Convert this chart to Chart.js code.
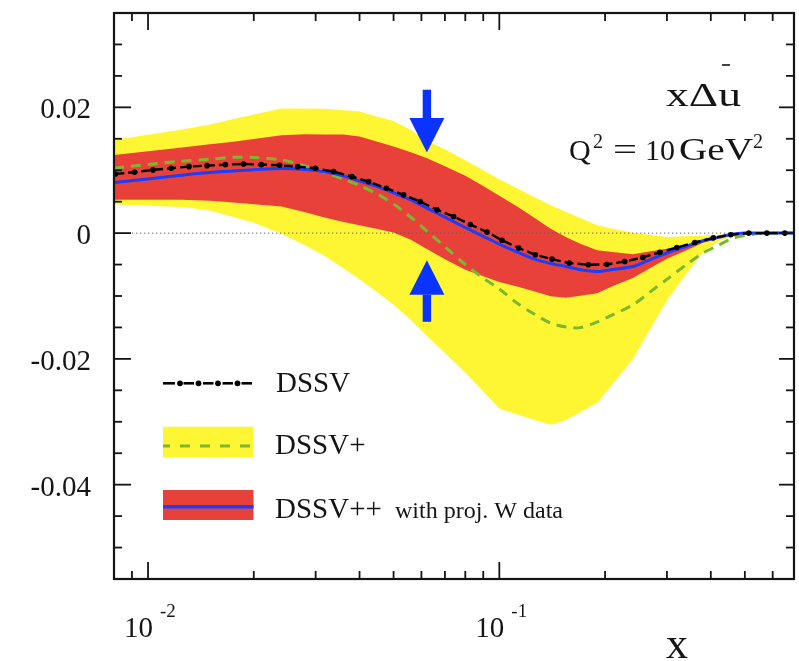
<!DOCTYPE html>
<html>
<head>
<meta charset="utf-8">
<script src="https://cdn.jsdelivr.net/npm/chart.js@4.4.1/dist/chart.umd.min.js"></script>
<style>
  html, body { margin: 0; padding: 0; background: #fff; }
  canvas { display: block; }
</style>
</head>
<body>
<canvas id="pdfC" width="799" height="661"></canvas>
<script>
/* ── data: x·Δū at Q² = 10 GeV² ─────────────────────────────────────────── */
const BAND_X = [0.008, 0.010, 0.0125, 0.015, 0.0175, 0.02, 0.024, 0.028, 0.032, 0.036,
                0.04, 0.045, 0.05, 0.056, 0.062, 0.07, 0.08, 0.09, 0.1, 0.113,
                0.126, 0.14, 0.155, 0.17, 0.19, 0.21, 0.24, 0.27, 0.3, 0.34,
                0.38, 0.42, 0.46, 0.5, 0.55, 0.6, 0.69];

/* DSSV+ uncertainty band (yellow) */
const YEL_TOP = [0.0148, 0.01565, 0.01648, 0.01727, 0.01813, 0.01887, 0.01983, 0.01983, 0.01978, 0.01952,
                 0.01932, 0.01852, 0.01781, 0.01638, 0.01473, 0.01332, 0.01157, 0.00998, 0.00855, 0.00705,
                 0.00571, 0.00444, 0.00335, 0.00241, 0.00125, 0.00068, 0.00005, -0.0003, -0.0006, -0.00048,
                 -0.00037, -0.00027, 0, 0, 0, 0, 0];
const YEL_BOT = [0.0046, 0.00437, 0.00414, 0.0036, 0.00258, 0.00163, -0.00011, -0.00197, -0.00371, -0.00562,
                 -0.00733, -0.00946, -0.01138, -0.01384, -0.01627, -0.01906, -0.02222, -0.02519, -0.02789, -0.0289,
                 -0.0297, -0.03048, -0.02973, -0.02849, -0.02698, -0.02402, -0.02003, -0.0151, -0.0107, -0.00654,
                 -0.00303, -0.00135, -0.00049, 0, 0, 0, 0];

/* DSSV++ uncertainty band (red) */
const RED_TOP = [0.01243, 0.01303, 0.01363, 0.01413, 0.01454, 0.01497, 0.01557, 0.01571, 0.01567, 0.01567,
                 0.01535, 0.01454, 0.01379, 0.01287, 0.01195, 0.01062, 0.00913, 0.00748, 0.00594, 0.00414,
                 0.0024, 0.00071, -0.00065, -0.00168, -0.00273, -0.003, -0.00337, -0.0029, -0.00249, -0.00183,
                 -0.00119, -0.00059, -0.00027, -0.00014, 0, 0, 0];
const RED_BOT = [0.00529, 0.00529, 0.00529, 0.00516, 0.00486, 0.0046, 0.00424, 0.0033, 0.00244, 0.00178,
                 0.00124, 0.00065, 0.0001, -0.00106, -0.00248, -0.00416, -0.00584, -0.00684, -0.00776, -0.00851,
                 -0.00927, -0.01002, -0.01027, -0.00995, -0.00956, -0.00846, -0.00713, -0.00549, -0.00408, -0.00276,
                 -0.00154, -0.0009, -0.0003, -0.0001, 0, 0, 0];

/* central curves */
const DSSVP  = [0.01032, 0.01092, 0.01144, 0.01176, 0.01205, 0.01202, 0.01165, 0.01068, 0.0096, 0.00856,
                0.00756, 0.00619, 0.00462, 0.00252, 0.00038, -0.00217, -0.00498, -0.00716, -0.00889, -0.01124,
                -0.0129, -0.0143, -0.01492, -0.01503, -0.01413, -0.013, -0.01141, -0.00927, -0.00735, -0.00505,
                -0.00316, -0.00195, -0.00086, -0.00037, -0.00008, 0, 0];
const DSSVPP = [0.00803, 0.00862, 0.00921, 0.00962, 0.00986, 0.01008, 0.01029, 0.01013, 0.00976, 0.0091,
                0.0083, 0.0074, 0.0064, 0.00527, 0.00402, 0.00254, 0.00089, -0.00051, -0.00176, -0.00306,
                -0.00414, -0.00482, -0.0053, -0.00583, -0.0061, -0.00578, -0.00532, -0.00416, -0.00316, -0.00211,
                -0.00121, -0.00068, -0.00019, 0, 0, 0, 0];

/* DSSV (dotted markers) */
const DSSV_X = [0.00807, 0.00916, 0.01033, 0.01163, 0.01308, 0.01472, 0.0166, 0.01871, 0.02102, 0.02369,
                0.02667, 0.02994, 0.03375, 0.03807, 0.04246, 0.04769, 0.0534, 0.05958, 0.06647, 0.07413,
                0.08271, 0.09226, 0.1018, 0.1135, 0.1266, 0.1413, 0.1582, 0.1792, 0.2023, 0.2276,
                0.2562, 0.2863, 0.3201, 0.3601, 0.4066, 0.456, 0.513, 0.5774, 0.6497];
const DSSV_Y = [0.00941, 0.00968, 0.01005, 0.01032, 0.01057, 0.01073, 0.01089, 0.011, 0.01089, 0.01079,
                0.01057, 0.01032, 0.00978, 0.00898, 0.00819, 0.00714, 0.00608, 0.00502, 0.0037, 0.00263,
                0.00137, 0.00016, -0.00114, -0.00238, -0.00344, -0.00413, -0.00476, -0.00503, -0.00498, -0.00451,
                -0.00387, -0.00305, -0.00229, -0.00149, -0.00075, -0.00027, 0, 0, 0];

/* ── axes ────────────────────────────────────────────────────────────────── */
const X_MIN = 0.008, X_MAX = 0.69;
const Y_MIN = -0.055, Y_MAX = 0.035;
const X_MAJOR = [0.01, 0.1];
const X_MAJOR_EXP = ['-2', '-1'];
const X_MINOR = [0.009, 0.02, 0.03, 0.04, 0.05, 0.06, 0.07, 0.08, 0.09, 0.2, 0.3, 0.4, 0.5, 0.6];
const Y_MAJOR = [0.02, 0, -0.02, -0.04];
const Y_LABELS = ['0.02', '0', '-0.02', '-0.04'];
const Y_MINOR = [0.03, 0.025, 0.015, 0.01, 0.005, -0.005, -0.01, -0.015, -0.025, -0.03, -0.035, -0.045, -0.05];
const ZERO_X = [0.009, 0.69];

/* arrows marking the x region where W data constrain most */
const ARROW_X = 0.0622;
const ARROW_DOWN = [0.0228, 0.0128];   // tail, tip
const ARROW_UP = [-0.0141, -0.0043];

const SERIF = '"Liberation Serif", "Times New Roman", serif';
const YELLOW = '#fff633', RED = '#e8413a', GREEN = '#7cb82f', BLUE = '#1a3dff', ARROW = '#0a33ff';

function pts(xs, ys) { return xs.map((x, i) => ({ x: x, y: ys[i] })); }

/* ── text helper: optional horizontal stretch to a target width ──────────── */
function txt(ctx, s, x, y, size, w) {
  ctx.font = size + 'px ' + SERIF;
  ctx.textAlign = 'left';
  const m = ctx.measureText(s).width;
  ctx.save();
  ctx.translate(x, y);
  if (w) ctx.scale(w / m, 1);
  ctx.fillText(s, 0, 0);
  ctx.restore();
}

function seg(ctx, x1, y1, x2, y2) {
  ctx.beginPath(); ctx.moveTo(x1, y1); ctx.lineTo(x2, y2); ctx.stroke();
}

function arrow(ctx, x, yTail, yTip) {
  const dir = Math.sign(yTip - yTail), head = 34.5, half = 17.5, shaft = 4.2;
  const yBase = yTip - dir * head;
  ctx.fillRect(x - shaft, Math.min(yTail, yBase), shaft * 2, Math.abs(yBase - yTail));
  ctx.beginPath();
  ctx.moveTo(x - half, yBase); ctx.lineTo(x + half, yBase); ctx.lineTo(x, yTip);
  ctx.closePath(); ctx.fill();
}

/* ── frame, ticks, labels, legend, annotations ───────────────────────────── */
const decor = {
  id: 'decor',
  afterDatasetsDraw(chart) {
    const ctx = chart.ctx, a = chart.chartArea;
    const sx = chart.scales.x, sy = chart.scales.y;
    ctx.save();

    /* arrows */
    ctx.fillStyle = ARROW;
    const ax = sx.getPixelForValue(ARROW_X);
    arrow(ctx, ax, sy.getPixelForValue(ARROW_DOWN[0]), sy.getPixelForValue(ARROW_DOWN[1]));
    arrow(ctx, ax, sy.getPixelForValue(ARROW_UP[0]), sy.getPixelForValue(ARROW_UP[1]));

    /* frame */
    ctx.strokeStyle = '#151515';
    ctx.lineWidth = 2.2;
    ctx.strokeRect(a.left, a.top, a.right - a.left, a.bottom - a.top);

    /* ticks, inward on all four sides */
    ctx.lineWidth = 1.8;
    Y_MINOR.forEach(v => {
      const p = sy.getPixelForValue(v);
      seg(ctx, a.left, p, a.left + 8, p); seg(ctx, a.right, p, a.right - 8, p);
    });
    Y_MAJOR.forEach(v => {
      const p = sy.getPixelForValue(v);
      seg(ctx, a.left, p, a.left + 17, p); seg(ctx, a.right, p, a.right - 15, p);
    });
    X_MINOR.forEach(v => {
      const p = sx.getPixelForValue(v);
      seg(ctx, p, a.bottom, p, a.bottom - 8); seg(ctx, p, a.top, p, a.top + 8);
    });
    X_MAJOR.forEach(v => {
      const p = sx.getPixelForValue(v);
      seg(ctx, p, a.bottom, p, a.bottom - 17); seg(ctx, p, a.top, p, a.top + 17);
    });

    /* tick labels */
    ctx.fillStyle = '#151515';
    ctx.textAlign = 'right';
    ctx.font = '29px ' + SERIF;
    Y_MAJOR.forEach((v, i) => {
      ctx.fillText(Y_LABELS[i], 91, sy.getPixelForValue(v) + 11);
    });
    X_MAJOR.forEach((v, i) => {
      const p = sx.getPixelForValue(v);
      ctx.textAlign = 'right';
      ctx.font = '29px ' + SERIF;
      ctx.fillText('10', p + 5, 637);
      ctx.textAlign = 'left';
      ctx.font = '19px ' + SERIF;
      ctx.fillText(X_MAJOR_EXP[i], p + 12, 617);
    });

    /* axis title */
    txt(ctx, 'x', 666, 658, 44);

    /* x Δ ū label */
    txt(ctx, 'xΔu', 666, 105.7, 34, 75);
    ctx.strokeStyle = '#151515';
    ctx.lineWidth = 1.6;
    seg(ctx, 722, 65, 730, 65);

    /* Q² = 10 GeV² */
    txt(ctx, 'Q', 569, 160, 30);
    txt(ctx, '2', 593, 148, 20);
    txt(ctx, '=', 613, 160, 32, 24);
    txt(ctx, '10', 645, 160, 30);
    txt(ctx, 'GeV', 679, 160, 31, 74);
    txt(ctx, '2', 753, 148, 20);

    /* legend: DSSV */
    ctx.strokeStyle = '#000';
    ctx.lineWidth = 2.6;
    [[163, 175], [183.5, 194], [203, 213.5], [222.5, 233], [241.5, 252]].forEach(s => seg(ctx, s[0], 383.3, s[1], 383.3));
    ctx.fillStyle = '#000';
    [180, 198.5, 218, 237.5].forEach(x => { ctx.beginPath(); ctx.arc(x, 383.3, 2.9, 0, Math.PI * 2); ctx.fill(); });

    /* legend: DSSV+ */
    ctx.fillStyle = YELLOW;
    ctx.fillRect(163, 426.7, 90.5, 30.6);
    ctx.strokeStyle = GREEN;
    ctx.lineWidth = 3;
    ctx.setLineDash([10, 10]);
    ctx.lineDashOffset = 3;
    seg(ctx, 163, 446, 253.5, 446);
    ctx.setLineDash([]);

    /* legend: DSSV++ */
    ctx.fillStyle = RED;
    ctx.fillRect(163, 490, 90.5, 30);
    ctx.strokeStyle = BLUE;
    ctx.lineWidth = 3.5;
    seg(ctx, 163, 506.7, 253.5, 506.7);

    ctx.fillStyle = '#151515';
    txt(ctx, 'DSSV', 276, 391.7, 29);
    txt(ctx, 'DSSV+', 275, 454.3, 29);
    txt(ctx, 'DSSV++', 275, 517.7, 29);
    txt(ctx, 'with proj. W data', 395, 517.7, 24);

    ctx.restore();
  }
};

/* ── chart ───────────────────────────────────────────────────────────────── */
const ctx = document.getElementById('pdfC').getContext('2d');

new Chart(ctx, {
  type: 'line',
  data: {
    datasets: [
      { label: 'DSSV+ band top', data: pts(BAND_X, YEL_TOP), borderWidth: 0, pointRadius: 0,
        fill: false, tension: 0, order: 8 },
      { label: 'DSSV+ band', data: pts(BAND_X, YEL_BOT), borderWidth: 0, pointRadius: 0,
        fill: 0, backgroundColor: YELLOW, tension: 0, order: 7 },
      { label: 'DSSV++ band top', data: pts(BAND_X, RED_TOP), borderWidth: 0, pointRadius: 0,
        fill: false, tension: 0, order: 6 },
      { label: 'DSSV++ band', data: pts(BAND_X, RED_BOT), borderWidth: 0, pointRadius: 0,
        fill: 2, backgroundColor: RED, tension: 0, order: 5 },
      { label: 'zero', data: pts(ZERO_X, [0, 0]), borderColor: 'rgba(90,90,90,0.75)', borderWidth: 1.2,
        borderDash: [1.3, 2.7], pointRadius: 0, fill: false, order: 4 },
      { label: 'DSSV+', data: pts(BAND_X, DSSVP), borderColor: GREEN, borderWidth: 3,
        borderDash: [10, 7], pointRadius: 0, fill: false, tension: 0.3, order: 3 },
      { label: 'DSSV++', data: pts(BAND_X, DSSVPP), borderColor: BLUE, borderWidth: 3,
        pointRadius: 0, fill: false, tension: 0.3, order: 2 },
      { label: 'DSSV', data: pts(DSSV_X, DSSV_Y), borderColor: '#000', borderWidth: 2.4,
        borderDash: [9, 4], pointRadius: 2.8, pointBackgroundColor: '#000', pointBorderWidth: 0,
        fill: false, tension: 0, order: 1 }
    ]
  },
  options: {
    responsive: false,
    devicePixelRatio: 1,
    animation: false,
    layout: { padding: { left: 114, right: 5, top: 13, bottom: 82 } },
    scales: {
      x: { type: 'logarithmic', min: X_MIN, max: X_MAX, bounds: 'data', display: false },
      y: { type: 'linear', min: Y_MIN, max: Y_MAX, bounds: 'data', display: false }
    },
    plugins: {
      legend: { display: false },
      tooltip: { enabled: false }
    }
  },
  plugins: [decor]
});
</script>
</body>
</html>
